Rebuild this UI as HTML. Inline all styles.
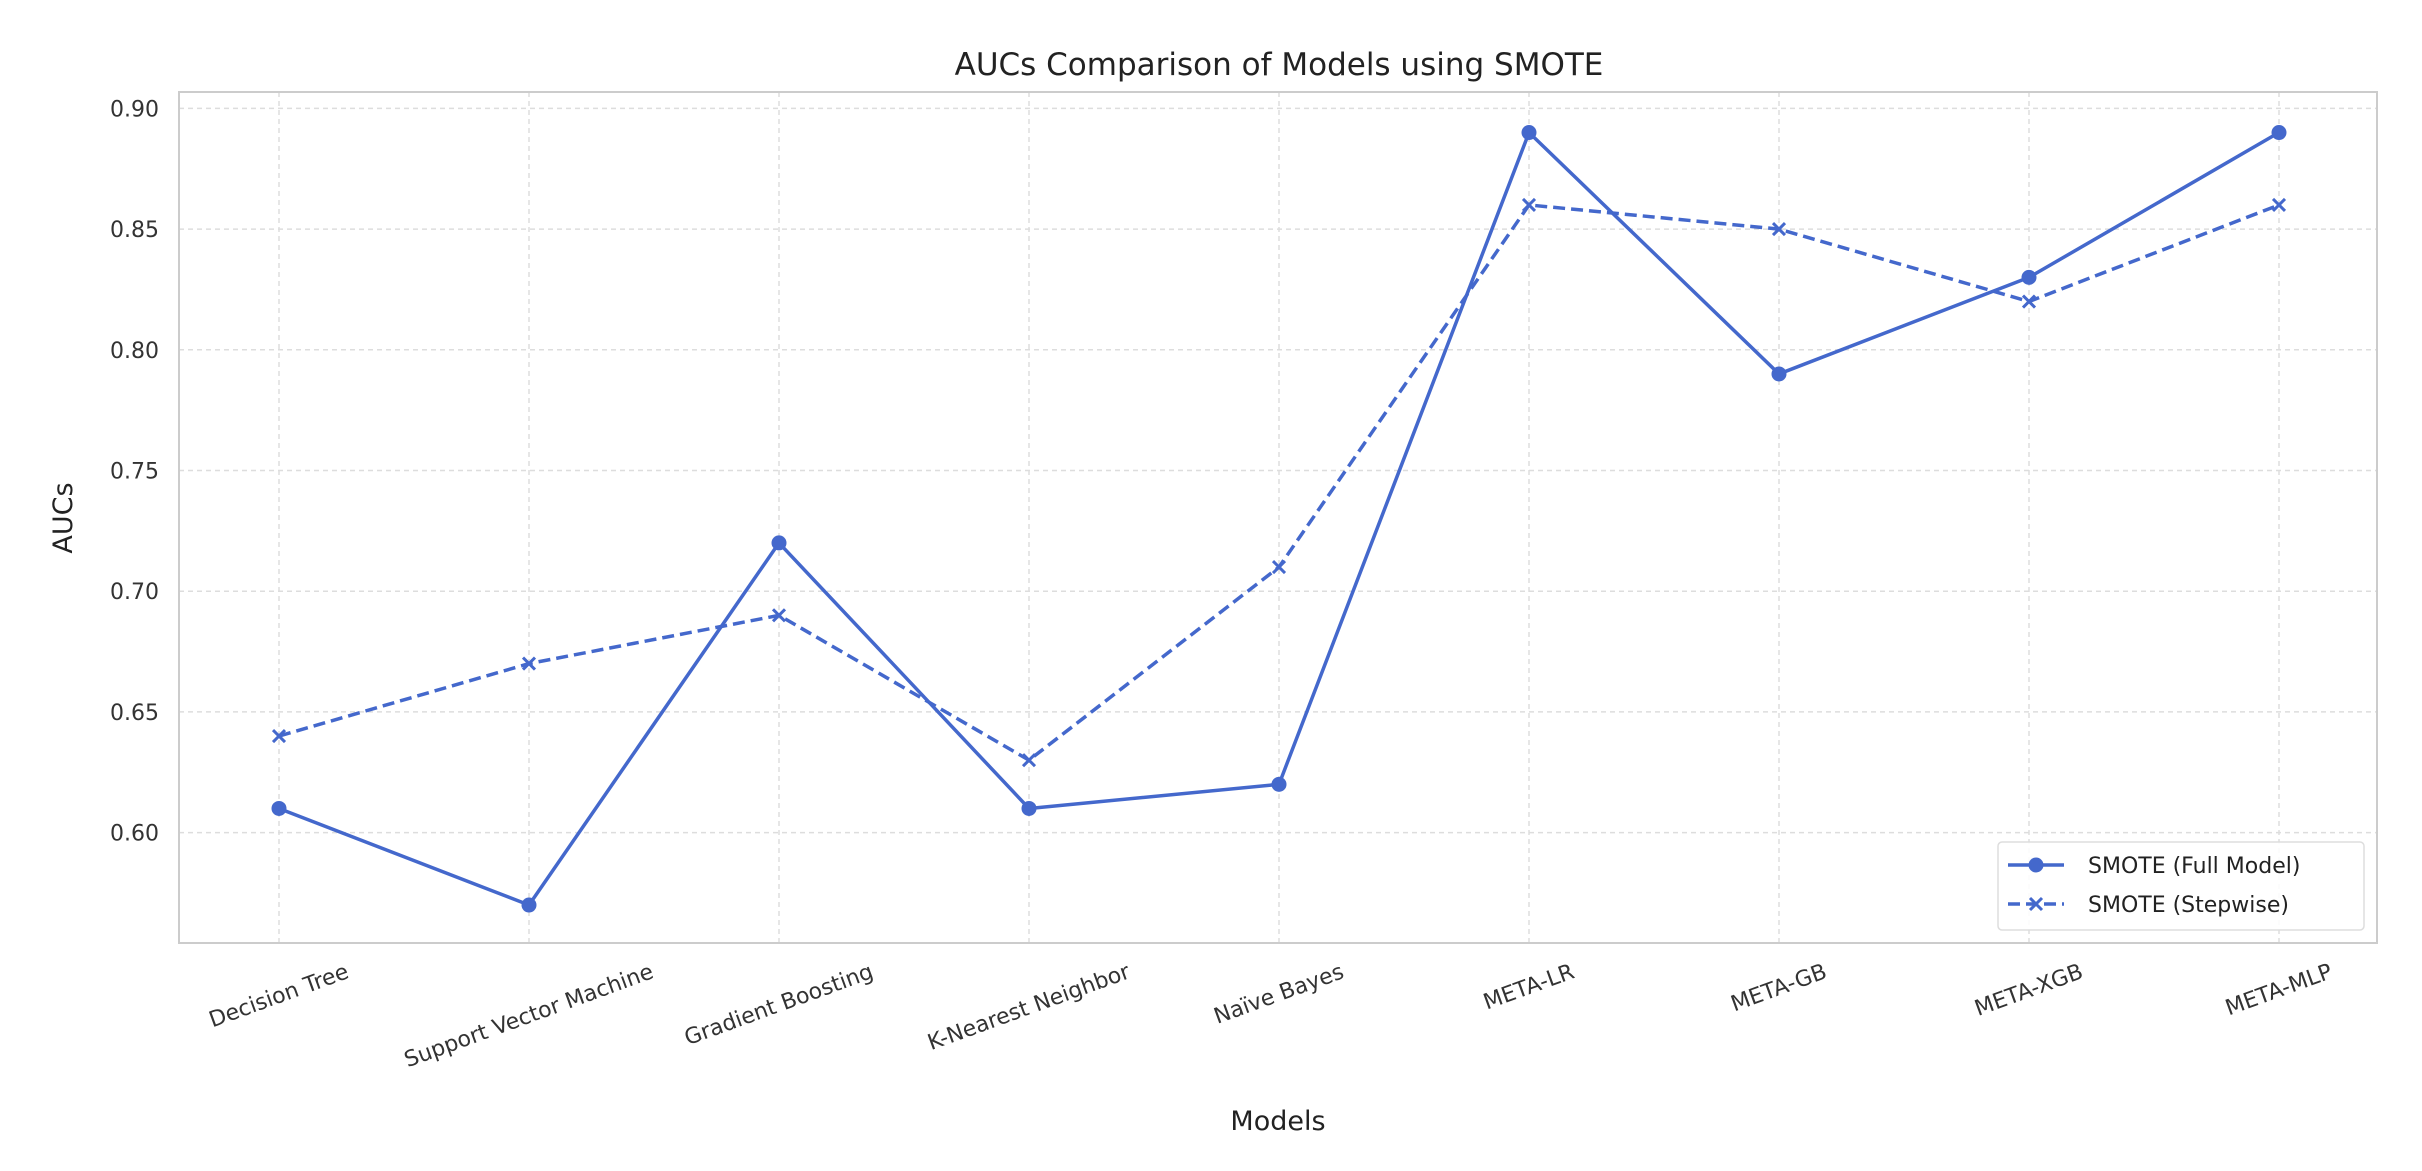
<!DOCTYPE html>
<html><head><meta charset="utf-8"><style>
html,body{margin:0;padding:0;background:#fff;}
svg{display:block;font-family:"DejaVu Sans","Liberation Sans",sans-serif;}
</style></head><body>
<svg id="chart" width="2422" height="1171" viewBox="0 0 2422 1171" xmlns="http://www.w3.org/2000/svg">
<rect width="2422" height="1171" fill="#fff"/>
<text x="1279" y="75" font-size="31" fill="#222" text-anchor="middle">AUCs Comparison of Models using SMOTE</text>
<text x="0" y="0" font-size="27" fill="#222" text-anchor="middle" transform="translate(72,518) rotate(-90)">AUCs</text>
<text x="1278" y="1130" font-size="27" fill="#222" text-anchor="middle">Models</text>
<g id="grid"></g>
<rect x="179" y="92" width="2198" height="851" fill="none" stroke="#ccc" stroke-width="2"/>
<g id="ticks"></g>
<g id="series"></g>
<g>
<rect x="1998" y="842" width="366" height="88" rx="4" fill="#fff" fill-opacity="0.85" stroke="#ddd" stroke-width="1.5"/>
<line x1="2008" y1="865" x2="2064" y2="865" stroke="#4468cc" stroke-width="3.5"/>
<circle cx="2036" cy="865" r="7.5" fill="#4468cc"/>
<text x="2088" y="873" font-size="22" fill="#222">SMOTE (Full Model)</text>
<line x1="2008" y1="904" x2="2064" y2="904" stroke="#4468cc" stroke-width="3.5" stroke-dasharray="12,6"/>
<path d="M2030 898 L2042 910 M2042 898 L2030 910" stroke="#4468cc" stroke-width="3"/>
<text x="2088" y="912" font-size="22" fill="#222">SMOTE (Stepwise)</text>
</g>
</svg>
<script>
const categories = ["Decision Tree","Support Vector Machine","Gradient Boosting","K-Nearest Neighbor","Naïve Bayes","META-LR","META-GB","META-XGB","META-MLP"];
const fullModel = [0.61,0.57,0.72,0.61,0.62,0.89,0.79,0.83,0.89];
const stepwise = [0.64,0.67,0.69,0.63,0.71,0.86,0.85,0.82,0.86];
const yTicks = [0.60,0.65,0.70,0.75,0.80,0.85,0.90];

const NS = "http://www.w3.org/2000/svg";
const L = 179, R = 2377, T = 92, B = 943;
function xPos(i){ return 279 + i * 250; }
function yPos(v){ return 832.6 - (v - 0.60) / 0.05 * 120.7; }
function mk(tag, attrs, parent){ const e = document.createElementNS(NS, tag); for (const k in attrs) e.setAttribute(k, attrs[k]); parent.appendChild(e); return e; }
const grid = document.getElementById('grid'), ticks = document.getElementById('ticks'), series = document.getElementById('series');

yTicks.forEach(v => {
  const y = yPos(v);
  const g = mk('line', {x1:L, x2:R, y1:y, y2:y, stroke:'#ddd', 'stroke-width':1.5, 'stroke-dasharray':'5,4'}, grid);
  
  
  const t = mk('text', {x:L - 20, y:y + 8, 'font-size':22, fill:'#333', 'text-anchor':'end'}, ticks);
  t.textContent = v.toFixed(2);
  
  
});
categories.forEach((c, i) => {
  const x = xPos(i);
  const g = mk('line', {x1:x, x2:x, y1:T, y2:B, stroke:'#ddd', 'stroke-width':1.5, 'stroke-dasharray':'5,4'}, grid);
  
  
  const t = mk('text', {x:0, y:0, 'font-size':22, fill:'#333', 'text-anchor':'middle', 'dominant-baseline':'central'}, ticks);
  t.textContent = c;
  
  
  const w = t.getComputedTextLength();
  const h = 24;
  const cy = 960 + (w * 0.342 + h * 0.94) / 2;
  t.setAttribute('transform', `translate(${x},${cy}) rotate(-20)`);
});

function pts(arr){ return arr.map((v, i) => xPos(i) + ',' + yPos(v)).join(' '); }
const l1 = mk('polyline', {points:pts(fullModel), fill:'none', stroke:'#4468cc', 'stroke-width':3.5, 'stroke-linejoin':'round'}, series);


const l2 = mk('polyline', {points:pts(stepwise), fill:'none', stroke:'#4468cc', 'stroke-width':3.5, 'stroke-dasharray':'12,6'}, series);


fullModel.forEach((v, i) => {
  const c = mk('circle', {cx:xPos(i), cy:yPos(v), r:7.5, fill:'#4468cc'}, series);
  
  
});
stepwise.forEach((v, i) => {
  const x = xPos(i), y = yPos(v);
  const p = mk('path', {d:`M${x-6} ${y-6} L${x+6} ${y+6} M${x+6} ${y-6} L${x-6} ${y+6}`, stroke:'#4468cc', 'stroke-width':3}, series);
  
  
});
</script>
</body></html>
